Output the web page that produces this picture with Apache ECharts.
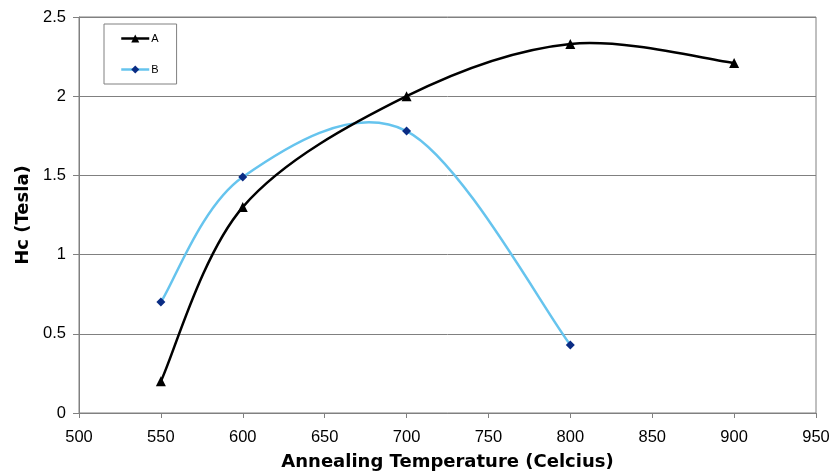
<!DOCTYPE html>
<html>
<head>
<meta charset="utf-8">
<script src="https://cdn.jsdelivr.net/npm/echarts@6/dist/echarts.min.js"></script>
<style>html,body{margin:0;padding:0;background:#fff}#c{width:831px;height:476px}</style>
</head>
<body>
<div id="c"></div>
<script>
var seriesNames = ['A', 'B'];
var tempA = [550, 600, 700, 800, 900];
var hcA = [0.20, 1.30, 2.00, 2.33, 2.21];
var tempB = [550, 600, 700, 800];
var hcB = [0.70, 1.49, 1.78, 0.43];
var xTitle = 'Annealing Temperature (Celcius)';
var yTitle = 'Hc (Tesla)';

function pairs(xs, ys) { return xs.map(function (x, i) { return [x, ys[i]]; }); }

// Excel-style smoothed curve: cubic Bezier segments with Catmull-Rom (1/6) control points,
// all positions taken from the axis scales via api.coord.
function smoothRenderer(xs, ys, color, width) {
  return function (params, api) {
    var i = params.dataIndex;
    if (i >= xs.length - 1) return null;
    var n = xs.length;
    function P(k) { k = Math.max(0, Math.min(n - 1, k)); return api.coord([xs[k], ys[k]]); }
    var p0 = P(i - 1), p1 = P(i), p2 = P(i + 1), p3 = P(i + 2);
    return {
      type: 'bezierCurve',
      shape: {
        x1: p1[0], y1: p1[1], x2: p2[0], y2: p2[1],
        cpx1: p1[0] + (p2[0] - p0[0]) / 6, cpy1: p1[1] + (p2[1] - p0[1]) / 6,
        cpx2: p2[0] - (p3[0] - p1[0]) / 6, cpy2: p2[1] - (p3[1] - p1[1]) / 6
      },
      style: { stroke: color, lineWidth: width, fill: null }
    };
  };
}

var colA = '#000000', colB = '#66C4EE', markB = '#0A2C84';
var chart = echarts.init(document.getElementById('c'));
var font = 'Liberation Sans, Arial, sans-serif';
chart.setOption({
  animation: false,
  backgroundColor: '#fff',
  grid: { left: 79, right: 15, top: 17, bottom: 63, outerBoundsMode: 'none', containLabel: false,
          show: true, borderColor: '#808080', borderWidth: 1 },
  legend: {
    orient: 'vertical', left: 104, top: 24,
    itemWidth: 28, itemHeight: 10, itemGap: 20,
    padding: [9, 18, 9, 16],
    borderColor: '#808080', borderWidth: 1,
    textStyle: { fontFamily: font, fontSize: 11, color: '#000', padding: [0, 0, 0, -3] },
    data: [
      { name: 'A', lineStyle: { color: colA, width: 2.5, opacity: 1 } },
      { name: 'B', lineStyle: { color: colB, width: 2.5, opacity: 1 } }
    ]
  },
  xAxis: {
    type: 'value', min: 500, max: 950, interval: 50,
    name: xTitle, nameLocation: 'middle', nameGap: 40,
    nameTextStyle: { fontFamily: 'DejaVu Sans, sans-serif', fontSize: 18, fontWeight: 'bold', color: '#000' },
    axisLine: { lineStyle: { color: '#808080' } },
    axisTick: { show: true, length: 5, inside: false, lineStyle: { color: '#808080' } },
    axisLabel: { fontFamily: font, fontSize: 16.5, color: '#000', margin: 16 },
    splitLine: { show: false }
  },
  yAxis: {
    type: 'value', min: 0, max: 2.5, interval: 0.5,
    name: yTitle, nameLocation: 'middle', nameGap: 46, nameRotate: 90,
    nameTextStyle: { fontFamily: 'DejaVu Sans, sans-serif', fontSize: 18, fontWeight: 'bold', color: '#000' },
    axisLine: { show: true, lineStyle: { color: '#808080' } },
    axisTick: { show: true, length: 6, lineStyle: { color: '#808080' } },
    axisLabel: { fontFamily: font, fontSize: 16.5, color: '#000', margin: 13 },
    splitLine: { show: true, lineStyle: { color: '#808080', width: 1 } }
  },
  series: [
    {
      type: 'custom', name: 'curveB', silent: true, z: 2,
      data: pairs(tempB, hcB), renderItem: smoothRenderer(tempB, hcB, colB, 2.5)
    },
    {
      type: 'custom', name: 'curveA', silent: true, z: 3,
      data: pairs(tempA, hcA), renderItem: smoothRenderer(tempA, hcA, colA, 2.5)
    },
    {
      name: 'A', type: 'line', z: 5,
      data: pairs(tempA, hcA),
      symbol: 'triangle', symbolSize: 10,
      lineStyle: { color: colA, width: 2.5, opacity: 0 },
      itemStyle: { color: colA }
    },
    {
      name: 'B', type: 'line', z: 4,
      data: pairs(tempB, hcB),
      symbol: 'diamond', symbolSize: 9,
      lineStyle: { color: colB, width: 2.5, opacity: 0 },
      itemStyle: { color: markB }
    }
  ]
});
</script>
</body>
</html>
